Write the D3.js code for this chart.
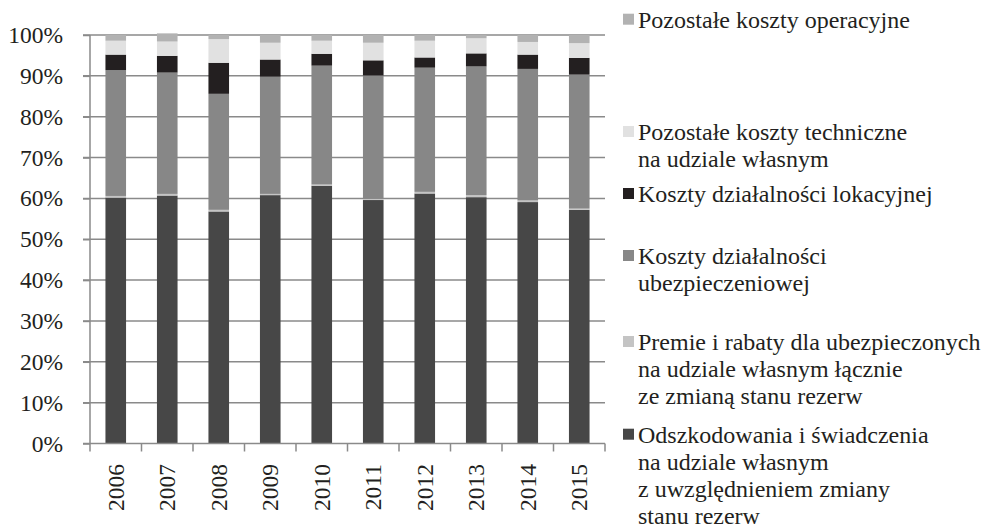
<!DOCTYPE html>
<html>
<head>
<meta charset="utf-8">
<script src="https://cdn.jsdelivr.net/npm/d3@7"></script>
<style>
  html, body { margin: 0; padding: 0; background: #fff; }
  svg { display: block; }
  text { font-family: "Liberation Serif", "Times New Roman", serif; fill: #231f20; }
</style>
</head>
<body>
<svg id="chart" width="983" height="528"></svg>
<script>
// ---- DATA ----
const years = ["2006","2007","2008","2009","2010","2011","2012","2013","2014","2015"];
const odszkodowania = [60.2, 60.7, 56.8, 60.8, 63.1, 59.6, 61.2, 60.3, 59.1, 57.2];
const premie        = [0.4, 0.4, 0.4, 0.3, 0.3, 0.3, 0.4, 0.5, 0.4, 0.3];
const ubezpieczeniowa = [30.8, 29.7, 28.4, 28.7, 29.1, 30.2, 30.4, 31.5, 32.2, 32.8];
const lokacyjna     = [3.8, 4.1, 7.6, 4.2, 2.9, 3.7, 2.5, 3.2, 3.5, 4.1];
const techniczne    = [3.4, 3.5, 5.8, 4.1, 3.2, 4.3, 4.1, 3.7, 3.1, 3.6];
const operacyjne    = [1.4, 2.0, 1.0, 1.9, 1.4, 1.9, 1.4, 0.8, 1.7, 2.0];
const yTicks = [0, 10, 20, 30, 40, 50, 60, 70, 80, 90, 100];

const seriesNames = [
  ["Odszkodowania i świadczenia", "na udziale własnym", "z uwzględnieniem zmiany", "stanu rezerw"],
  ["Premie i rabaty dla ubezpieczonych", "na udziale własnym łącznie", "ze zmianą stanu rezerw"],
  ["Koszty działalności", "ubezpieczeniowej"],
  ["Koszty działalności lokacyjnej"],
  ["Pozostałe koszty techniczne", "na udziale własnym"],
  ["Pozostałe koszty operacyjne"]
];
const seriesValues = [odszkodowania, premie, ubezpieczeniowa, lokacyjna, techniczne, operacyjne];

// ---- STYLE / LAYOUT ----
const colors = ["#474747", "#c4c4c4", "#878787", "#231f20", "#e1e1e1", "#b2b2b2"];
const legendFirstBaseline = [442.7, 350, 264, 202, 140, 27.7]; // per series (same order as series)
const fontSize = 23.5;
const legendFontSize = 24;
const lineH = 27;

const svg = d3.select("#chart");
const x0 = 90, x1 = 605, yTop = 35, yBot = 443.5;

const x = d3.scaleBand().domain(years).range([x0, x1]).paddingInner(0.6).paddingOuter(0.3);
const y = d3.scaleLinear().domain([0, 100]).range([yBot, yTop]);

// gridlines
svg.append("g").selectAll("line").data(yTicks.filter(d => d > 0)).join("line")
  .attr("x1", x0 - 7).attr("x2", x1)
  .attr("y1", d => y(d)).attr("y2", d => y(d))
  .attr("stroke", "#8a8a8a").attr("stroke-width", 1.5);

// stacked data
const rows = years.map((yr, i) => {
  const r = { year: yr };
  seriesValues.forEach((s, k) => r["s" + k] = s[i]);
  return r;
});
const keys = seriesValues.map((s, k) => "s" + k);
const stack = d3.stack().keys(keys)(rows);

svg.append("g").selectAll("g").data(stack).join("g")
  .attr("fill", (d, i) => colors[i])
  .selectAll("rect").data(d => d).join("rect")
  .attr("x", d => x(d.data.year))
  .attr("width", x.bandwidth())
  .attr("y", d => y(d[1]))
  .attr("height", d => y(d[0]) - y(d[1]));

// y axis
const yAxis = d3.axisLeft(y).tickValues(yTicks).tickFormat(d => d + "%").tickSize(7).tickPadding(20);
const gy = svg.append("g").attr("transform", `translate(${x0},0)`).call(yAxis);
gy.select(".domain").attr("stroke", "#8a8a8a").attr("stroke-width", 1.5).attr("d", `M0,${yTop}V${yBot}`);
gy.selectAll(".tick line").attr("stroke", "#8a8a8a").attr("stroke-width", 1.5);
gy.selectAll(".tick text").attr("font-size", fontSize).attr("font-family", "Liberation Serif").attr("fill", "#231f20");

// x axis
const xAxis = d3.axisBottom(x).tickSize(0).tickFormat("");
const gx = svg.append("g").attr("transform", `translate(0,${yBot})`).call(xAxis);
gx.select(".domain").attr("stroke", "#8a8a8a").attr("stroke-width", 1.5).attr("d", `M${x0 - 7},0H${x1}`);
gx.selectAll(".tick").remove();
// boundary ticks
const bounds = d3.range(years.length + 1).map(i => x0 + i * (x1 - x0) / years.length);
gx.selectAll("line.b").data(bounds).join("line").attr("class", "b")
  .attr("x1", d => d).attr("x2", d => d).attr("y1", 0).attr("y2", 8)
  .attr("stroke", "#8a8a8a").attr("stroke-width", 1.5);
// year labels
svg.append("g").selectAll("text").data(years).join("text")
  .attr("transform", d => `translate(${x(d) + x.bandwidth() / 2},464) rotate(-90)`)
  .attr("text-anchor", "end").attr("dy", "0.34em")
  .attr("font-size", fontSize)
  .text(d => d);

// legend
const lg = svg.append("g");
seriesNames.forEach((lines, k) => {
  const b = legendFirstBaseline[k];
  lg.append("rect").attr("x", 623).attr("y", b - 14).attr("width", 11).attr("height", 11).attr("fill", colors[k]);
  lines.forEach((t, j) => {
    lg.append("text").attr("x", 638).attr("y", b + j * lineH).attr("font-size", legendFontSize).text(t);
  });
});
</script>
</body>
</html>
